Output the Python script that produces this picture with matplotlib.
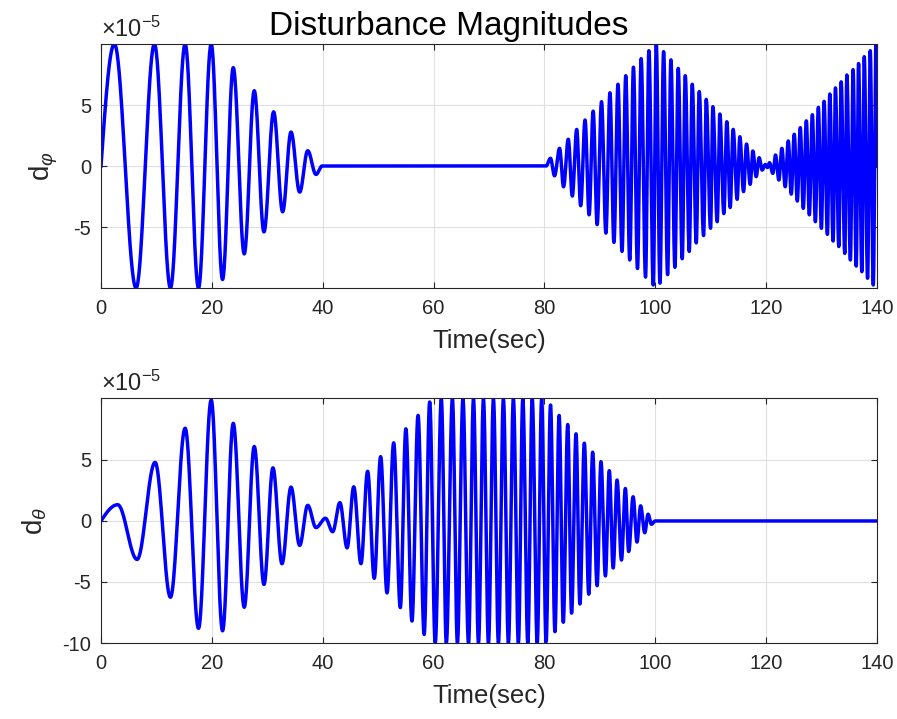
import numpy as np
import matplotlib.pyplot as plt

plt.rcParams['font.family'] = ['Liberation Sans', 'DejaVu Sans']
plt.rcParams['mathtext.fontset'] = 'custom'
plt.rcParams['mathtext.rm'] = 'Liberation Sans'
plt.rcParams['mathtext.it'] = 'Liberation Sans:italic'

# turning points of d_phi (time in s, value in 1e-5 units)
phi_t = [0, 2.41, 6.33, 9.64, 12.53, 15.18, 17.59, 19.88, 21.93, 23.86, 25.84,
         27.65, 29.40, 31.14, 32.77, 34.28, 35.84, 37.29, 38.79, 39.88,
         80.3, 81.09, 81.82, 82.73, 83.45, 84.30, 85.03, 85.82, 86.54, 87.33,
         88.06, 88.79, 89.51, 90.30, 91.09, 91.82, 92.54, 93.27, 94.00, 94.67,
         95.39, 96.06, 96.79, 97.45, 98.24, 98.85, 99.63, 100.18,
         100.84, 101.50, 102.22, 102.82, 103.54, 104.14, 104.86, 105.41,
         106.13, 106.67, 107.39, 107.93, 108.71, 109.19, 109.97, 110.39,
         111.17, 111.65, 112.37, 112.91, 113.51, 114.05, 114.77, 115.25,
         115.92, 116.46, 117.12, 117.60, 118.20, 118.74, 119.28, 119.85,
         120.25, 120.60, 121.21, 121.69, 122.30, 122.84, 123.44, 123.99,
         124.53, 125.07, 125.62, 126.16, 126.70, 127.25, 127.79, 128.34,
         128.88, 129.42, 129.97, 130.45, 131.05, 131.48, 132.08, 132.50,
         133.11, 133.53, 134.19, 134.56, 135.20, 135.68, 136.25, 136.67,
         137.27, 137.70, 138.30, 138.78, 139.33, 139.81, 140.0]
phi_v = [0, 10, -10, 10, -10, 10, -10, 10, -9.3, 8.06, -7.2,
         6.17, -5.4, 4.44, -3.75, 2.78, -2.14, 1.25, -0.69, 0,
         0, 0.63, -0.8, 1.45, -1.7, 2.19, -2.46, 3.0, -3.25, 3.77,
         -4.0, 4.5, -4.8, 5.27, -5.5, 6.0, -6.26, 6.7, -7.0, 7.4,
         -7.7, 8.1, -8.4, 8.8, -9.1, 9.45, -9.75, 10.0,
         -9.6, 9.37, -8.9, 8.7, -8.3, 8.0, -7.6, 7.4,
         -7.0, 6.7, -6.3, 6.1, -5.7, 5.46, -5.1, 4.86,
         -4.56, 4.26, -3.9, 3.63, -3.4, 3.0, -2.73, 2.4,
         -2.1, 1.8, -1.5, 1.23, -0.87, 0.68, -0.33, 0.12,
         -0.12, 0.27, -0.6, 0.9, -1.15, 1.45, -1.7, 2.05,
         -2.3, 2.6, -2.87, 3.14, -3.47, 3.7, -4.0, 4.2,
         -4.56, 4.8, -5.1, 5.3, -5.6, 5.9, -6.15, 6.4,
         -6.6, 6.9, -7.16, 7.46, -7.7, 7.9, -8.2, 8.4,
         -8.66, 8.96, -9.2, 9.45, -9.75, 10.0, 0]

# turning points of d_theta
theta_t = [0, 3.01, 6.51, 9.76, 12.53, 15.18, 17.59, 19.88, 21.93, 23.86,
           25.84, 27.65, 29.40, 31.02, 32.65, 34.28, 35.84, 37.29, 38.79,
           40.5, 41.8, 43.1, 44.4, 45.6, 46.9, 48.1, 49.3, 50.45, 51.6,
           52.8, 54.0, 55.0, 56.1, 57.2, 58.3, 59.3,
           60.3, 61.4, 62.3, 63.4, 64.3, 65.3, 66.3, 67.2, 68.1, 69.0,
           69.9, 70.8, 71.7, 72.6, 73.5, 74.4, 75.3, 76.1, 77.0, 77.8,
           78.7, 79.5, 80.3,
           81.1, 81.9, 82.65, 83.4, 84.2, 84.9, 85.7, 86.4, 87.2, 88.0,
           88.7, 89.5, 90.2, 91.0, 91.7, 92.4, 93.1, 93.9, 94.6, 95.2,
           96.0, 96.7, 97.35, 98.1, 98.7, 99.3, 100.0, 140.0]
theta_v = [0, 1.33, -3.15, 4.8, -6.25, 7.6, -8.8, 9.9, -9.0, 8.0,
           -7.07, 6.1, -5.2, 4.35, -3.5, 2.77, -2.0, 1.28, -0.54,
           0.22, -0.88, 1.5, -2.2, 2.8, -3.5, 4.07, -4.7, 5.27, -5.9,
           6.4, -7.1, 7.55, -8.2, 8.65, -9.3, 9.75,
           -10, 10, -10, 10, -10, 10, -10, 10, -10, 10,
           -10, 10, -10, 10, -10, 10, -10, 10, -10, 10,
           -10, 10, -9.9,
           9.5, -9.07, 8.65, -8.3, 7.9, -7.55, 7.14, -6.8, 6.37, -6.0,
           5.63, -5.3, 4.86, -4.5, 4.12, -3.85, 3.35, -3.2, 2.66, -2.5,
           1.98, -1.73, 1.24, -0.96, 0.55, -0.27, 0, 0]

x_ticks = [0, 20, 40, 60, 80, 100, 120, 140]


def smooth_wave(tp, vp, n=40):
    # join turning points with half-cosine arcs
    tt, vv = [], []
    last = len(tp) - 2
    for i in range(len(tp) - 1):
        t0, t1, v0, v1 = tp[i], tp[i + 1], vp[i], vp[i + 1]
        s = np.linspace(0, 1, n, endpoint=False)
        if i == 0 and v0 == 0:
            seg = v1 * np.sin(np.pi / 2 * s)
        elif i == last and v1 == 0 and v0 != 0:
            seg = v0 * np.cos(np.pi / 2 * s)
        else:
            seg = (v0 + v1) / 2 + (v0 - v1) / 2 * np.cos(np.pi * s)
        tt.append(t0 + (t1 - t0) * s)
        vv.append(seg)
    tt.append([tp[-1]])
    vv.append([vp[-1]])
    return np.concatenate(tt), np.concatenate(vv)


dark = (0.15, 0.15, 0.15)


def style_axes(ax, yticks, ylim, ylabel):
    ax.set_xlim(0, 140)
    ax.set_ylim(*ylim)
    ax.set_xticks(x_ticks)
    ax.set_yticks(yticks)
    ax.set_yticklabels([str(v) for v in yticks])
    ax.grid(True, color='#dfdfdf', linewidth=0.8)
    ax.set_axisbelow(True)
    ax.tick_params(direction='in', length=4, width=0.8, top=True, right=True,
                   colors=dark, labelsize=14.5)
    ax.tick_params(axis='x', pad=8)
    ax.tick_params(axis='y', pad=7)
    for sp in ax.spines.values():
        sp.set_color(dark)
        sp.set_linewidth(0.8)
    ax.set_xlabel('Time(sec)', fontsize=18.5, color=dark, labelpad=8)
    ax.set_ylabel(ylabel, fontsize=20, color=dark, labelpad=10)
    ax.text(0.0, 1.008, r'$\times10^{-5}$', transform=ax.transAxes,
            fontsize=17, color=dark, ha='left', va='bottom')


fig = plt.figure(figsize=(8.97, 7.19), dpi=100)
ax1 = fig.add_axes([0.1126, 0.5994, 0.8651, 0.3394])
ax2 = fig.add_axes([0.1126, 0.1057, 0.8651, 0.3408])

t1, y1 = smooth_wave(phi_t, phi_v)
ax1.plot(t1, y1, color='blue', linewidth=2.5)
style_axes(ax1, [-5, 0, 5], (-10, 10), r'd$_{\varphi}$')
fig.text(0.5, 0.951, 'Disturbance Magnitudes', fontsize=24, color='black',
         ha='center', va='baseline')

t2, y2 = smooth_wave(theta_t, theta_v)
ax2.plot(t2, y2, color='blue', linewidth=2.5)
style_axes(ax2, [-10, -5, 0, 5], (-10, 10.08), r'd$_{\theta}$')

fig.savefig('out.png', dpi=100)
